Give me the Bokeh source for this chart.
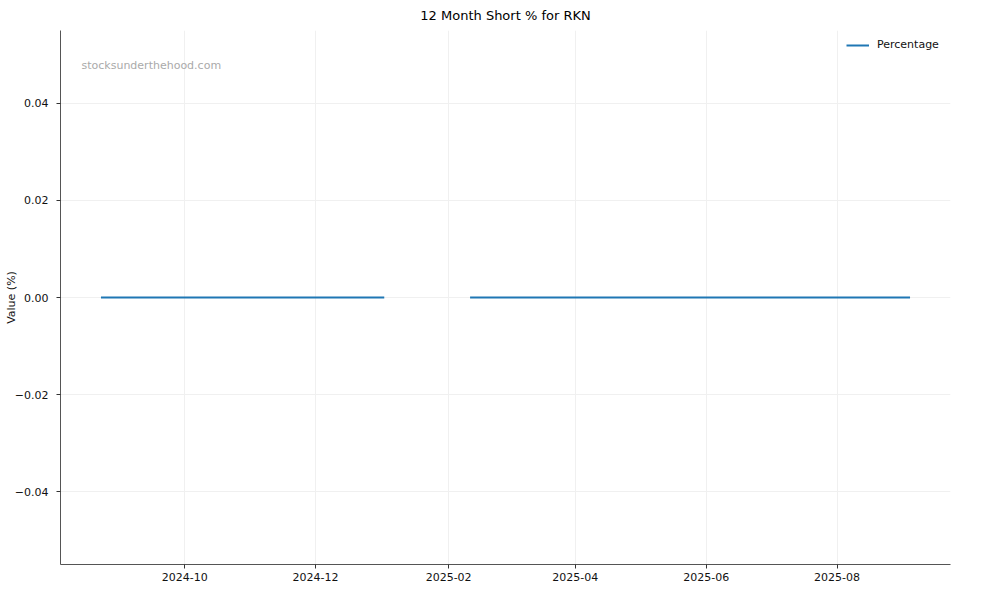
import numpy as np
import pandas as pd
from bokeh.plotting import figure
from bokeh.models import (Range1d, FixedTicker, DatetimeTickFormatter,
                          CustomJSTickFormatter, Label, ColumnDataSource)
from bokeh.embed import file_html
from bokeh.resources import INLINE

title_text = "12 Month Short % for RKN"
y_label = "Value (%)"
series_name = "Percentage"
watermark = "stocksunderthehood.com"

dates = ["2024-08-23", "2024-08-30", "2024-09-13", "2024-09-30", "2024-10-15",
         "2024-10-31", "2024-11-15", "2024-11-29", "2024-12-13", "2024-12-31",
         "2025-01-02", "2025-01-15",
         "2025-02-11", "2025-02-28", "2025-03-14", "2025-03-31", "2025-04-15",
         "2025-04-30", "2025-05-15", "2025-05-30", "2025-06-13", "2025-06-30",
         "2025-07-15", "2025-07-31", "2025-08-15", "2025-08-29", "2025-09-04"]
values = [0.0, 0.0, 0.0, 0.0, 0.0,
          0.0, 0.0, 0.0, 0.0, 0.0,
          0.0, None,
          0.0, 0.0, 0.0, 0.0, 0.0,
          0.0, 0.0, 0.0, 0.0, 0.0,
          0.0, 0.0, 0.0, 0.0, 0.0]
y_ticks = [-0.04, -0.02, 0.0, 0.02, 0.04]
x_tick_labels = ["2024-10", "2024-12", "2025-02", "2025-04", "2025-06", "2025-08"]

FONT = "DejaVu Sans"

d = pd.to_datetime(dates)
v = np.array([np.nan if x is None else x for x in values], dtype=float)
src = ColumnDataSource(dict(date=d, value=v))

start, end = d.min(), d.max()
pad = (end - start) * 0.05
valid = v[~np.isnan(v)]
ylo, yhi = valid.min() - 0.05, valid.max() + 0.05
ypad = (yhi - ylo) * 0.05

p = figure(width=984, height=584, x_axis_type="datetime",
           x_range=Range1d(start - pad, end + pad),
           y_range=Range1d(ylo - ypad, yhi + ypad),
           output_backend="svg", toolbar_location=None,
           min_border_left=60, min_border_right=34,
           min_border_top=30, min_border_bottom=20,
           title=title_text)

p.outline_line_color = None
p.background_fill_color = "white"
p.border_fill_color = "white"

p.title.align = "center"
p.title.text_font = FONT
p.title.text_font_size = "13px"
p.title.text_font_style = "normal"
p.title.text_color = "black"
p.title.vertical_align = "middle"
p.title.standoff = 13

p.line("date", "value", source=src, line_color="#1f77b4", line_width=2,
       legend_label=series_name)

x_ticks = [t.timestamp() * 1000 for t in pd.to_datetime(x_tick_labels, format="%Y-%m")]
p.xaxis.ticker = FixedTicker(ticks=x_ticks, minor_ticks=[])
p.xaxis.formatter = DatetimeTickFormatter(days="%Y-%m", months="%Y-%m", years="%Y-%m")
p.yaxis.ticker = FixedTicker(ticks=y_ticks, minor_ticks=[])
p.yaxis.formatter = CustomJSTickFormatter(
    code="return (tick < -1e-12 ? '\u2212' : '') + Math.abs(tick).toFixed(2);")

for ax in (p.xaxis, p.yaxis):
    ax.axis_line_color = "#555555"
    ax.axis_line_width = 1
    ax.major_tick_line_color = "#333333"
    ax.major_tick_out = 4
    ax.major_tick_in = 0
    ax.minor_tick_line_color = None
    ax.major_label_text_font = FONT
    ax.major_label_text_font_size = "11px"
    ax.major_label_text_color = "#111111"
p.xaxis.major_label_standoff = 4
p.yaxis.major_label_standoff = 8

p.yaxis.axis_label = y_label
p.yaxis.axis_label_standoff = -6
p.yaxis.axis_label_text_font = FONT
p.yaxis.axis_label_text_font_size = "11px"
p.yaxis.axis_label_text_font_style = "normal"
p.yaxis.axis_label_text_color = "#111111"

p.xgrid.ticker = p.xaxis.ticker
p.ygrid.ticker = p.yaxis.ticker
p.grid.grid_line_color = "#f0f0f0"
p.grid.grid_line_alpha = 1.0
p.grid.grid_line_width = 1

leg = p.legend[0]
leg.location = (786, 513)
leg.margin = 0
leg.padding = 4
leg.glyph_width = 23
leg.glyph_height = 12
leg.label_height = 12
leg.label_standoff = 8
leg.border_line_color = None
leg.background_fill_alpha = 0.0
leg.label_text_font = FONT
leg.label_text_font_size = "11px"
leg.label_text_color = "#111111"

p.add_layout(Label(x=21, y=499, x_units="screen", y_units="screen",
                   text=watermark, text_font=FONT, text_font_size="11px",
                   text_color="#aaaaaa", text_align="left", text_baseline="middle"))

open("out.html", "w").write(file_html(p, INLINE))
